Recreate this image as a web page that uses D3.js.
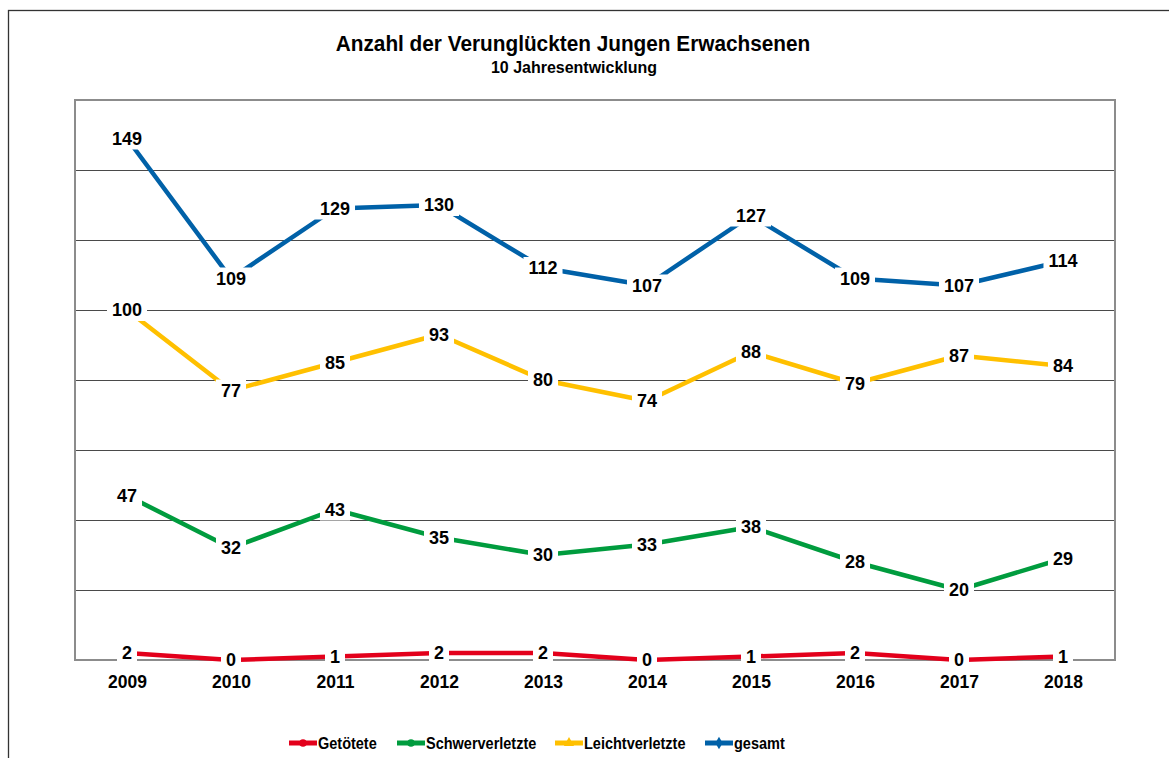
<!DOCTYPE html>
<html>
<head>
<meta charset="utf-8">
<script src="https://cdnjs.cloudflare.com/ajax/libs/d3/7.8.5/d3.min.js"></script>
<style>
    body { margin: 0; background: #fff; }
    svg { display: block; font-family: 'Liberation Sans', Arial, sans-serif; }
</style>
</head>
<body>
<svg id="chart" width="1169" height="758"></svg>
<script>
'use strict';

const years = ['2009', '2010', '2011', '2012', '2013', '2014', '2015', '2016', '2017', '2018'];
const getoetete = [2, 0, 1, 2, 2, 0, 1, 2, 0, 1];
const schwerverletzte = [47, 32, 43, 35, 30, 33, 38, 28, 20, 29];
const leichtverletzte = [100, 77, 85, 93, 80, 74, 88, 79, 87, 84];
const gesamt = [149, 109, 129, 130, 112, 107, 127, 109, 107, 114];
const gridValues = [20, 40, 60, 80, 100, 120, 140];

const series = [
    {name: 'Getötete', values: getoetete, color: '#e3001b', marker: d3.symbolCircle},
    {name: 'Schwerverletzte', values: schwerverletzte, color: '#009c3e', marker: d3.symbolCircle},
    {name: 'Leichtverletzte', values: leichtverletzte, color: '#ffc000', marker: d3.symbolTriangle},
    {name: 'gesamt', values: gesamt, color: '#0061a8', marker: d3.symbolDiamond}
];

const vis = d3.select('#chart');

const x = d3.scalePoint().domain(years).range([75, 1115]).padding(0.5);
const y = d3.scaleLinear().domain([0, 160]).range([660, 100]);

// outer frame
vis.append('rect')
    .attr('x', 8.5).attr('y', 10.5)
    .attr('width', 1300).attr('height', 900)
    .attr('fill', 'none')
    .attr('stroke', '#333')
    .attr('stroke-width', 1.3);

// title (source text looks slightly stretched vertically)
vis.append('text')
    .attr('transform', 'translate(573,51) scale(1,1.08)')
    .attr('text-anchor', 'middle')
    .attr('font-size', 20.8)
    .attr('font-weight', 'bold')
    .text('Anzahl der Verunglückten Jungen Erwachsenen');

vis.append('text')
    .attr('transform', 'translate(574,73) scale(1,1.08)')
    .attr('text-anchor', 'middle')
    .attr('font-size', 16)
    .attr('font-weight', 'bold')
    .text('10 Jahresentwicklung');

// gridlines
vis.append('g')
    .selectAll('line')
    .data(gridValues)
    .enter().append('line')
    .attr('x1', 75).attr('x2', 1115)
    .attr('y1', d => Math.round(y(d)) + 0.5)
    .attr('y2', d => Math.round(y(d)) + 0.5)
    .attr('stroke', '#4a4a4a')
    .attr('stroke-width', 1);

// plot frame
vis.append('rect')
    .attr('x', 75).attr('y', y(160))
    .attr('width', 1040).attr('height', y(0) - y(160))
    .attr('fill', 'none')
    .attr('stroke', '#8c8c8c')
    .attr('stroke-width', 2);

// x axis labels
const xAxis = vis.append('g')
    .attr('transform', `translate(0,${y(0)})`)
    .call(d3.axisBottom(x).tickSize(0).tickPadding(0));
xAxis.select('.domain').remove();
xAxis.selectAll('text')
    .attr('y', 27.5)
    .attr('dy', 0)
    .attr('fill', '#000')
    .attr('font-family', "'Liberation Sans', Arial, sans-serif")
    .attr('font-size', 17.5)
    .attr('font-weight', 'bold');

// lines
const line = d3.line()
    .x((d, i) => x(years[i]))
    .y(d => y(d));

vis.append('g')
    .selectAll('path')
    .data(series)
    .enter().append('path')
    .attr('d', d => line(d.values))
    .attr('fill', 'none')
    .attr('stroke', d => d.color)
    .attr('stroke-width', 4.5)
    .attr('stroke-linejoin', 'round');

// data labels with white boxes
const labelData = [];
series.forEach(s => {
    s.values.forEach((v, i) => labelData.push({year: years[i], value: v}));
});

const labels = vis.append('g')
    .selectAll('g')
    .data(labelData)
    .enter().append('g')
    .attr('transform', d => `translate(${x(d.year)},${y(d.value)})`);

labels.append('rect')
    .attr('fill', '#fff');

labels.append('text')
    .attr('text-anchor', 'middle')
    .attr('dy', '0.36em')
    .attr('font-size', 18)
    .attr('font-weight', 'bold')
    .attr('fill', '#000')
    .text(d => d.value);

labels.each(function() {
    const g = d3.select(this);
    const bb = g.select('text').node().getBBox();
    g.select('rect')
        .attr('x', bb.x - 5)
        .attr('y', -11)
        .attr('width', bb.width + 10)
        .attr('height', 22);
});

// legend
const legendX = [289, 397, 555, 705];
const legend = vis.append('g')
    .selectAll('g')
    .data(series)
    .enter().append('g')
    .attr('transform', (d, i) => `translate(${legendX[i]},743)`);

legend.append('line')
    .attr('x1', 0).attr('x2', 28)
    .attr('stroke', d => d.color)
    .attr('stroke-width', 5);

legend.append('path')
    .attr('transform', 'translate(14,0)')
    .attr('d', d => d3.symbol().type(d.marker).size(45)())
    .attr('fill', d => d.color);

legend.append('text')
    .attr('transform', 'translate(29,0) scale(1,1.15)')
    .attr('dy', '0.36em')
    .attr('font-size', 14.5)
    .attr('font-weight', 'bold')
    .attr('fill', '#000')
    .text(d => d.name);
</script>
</body>
</html>
